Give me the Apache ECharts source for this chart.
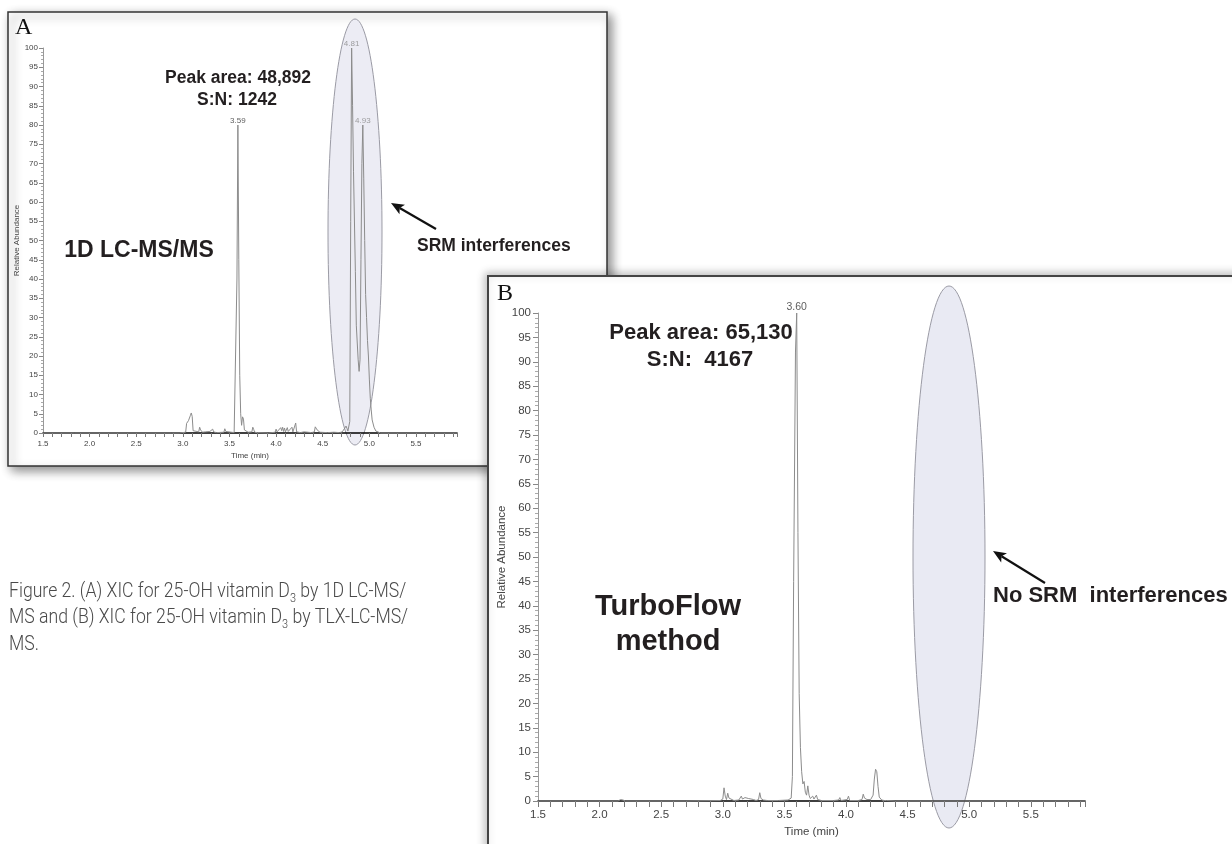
<!DOCTYPE html>
<html><head><meta charset="utf-8">
<script src="https://cdn.jsdelivr.net/npm/echarts@6/dist/echarts.min.js"></script>
<style>html,body{margin:0;padding:0;background:#fff}#c{width:1232px;height:844px}</style>
</head><body><div id="c"></div>
<script>
// ---- data ----
const timeRange = [1.5, 5.94];
const abundanceRange = [0, 100];
const traceA = [
[1.50,0],[1.84,0],[1.85,0.3],[1.86,0],[2.40,0],[2.41,0.2],[2.42,0],[2.88,0],[2.89,0.3],[2.90,0],[2.96,0],[2.97,0.3],[2.98,0],
[3.03,0.2],[3.04,2.5],[3.06,3.2],[3.07,2.8],[3.08,4.5],[3.09,5.2],[3.10,4.3],[3.11,0.6],[3.13,0.1],[3.17,0.3],[3.18,1.5],[3.19,0.8],
[3.20,1.0],[3.21,0.2],[3.24,0.3],[3.26,0.1],[3.29,0.4],[3.30,0.2],[3.32,1.0],[3.33,0.3],[3.36,0.1],[3.44,0.2],[3.45,1.1],[3.46,0.4],
[3.47,0.1],[3.55,0.1],[3.57,0.5],[3.58,40],[3.59,80],[3.60,45],[3.61,15],[3.62,5],[3.63,2],[3.64,4.2],[3.65,3.6],[3.66,0.8],[3.68,0.5],
[3.70,0.2],[3.74,0.3],[3.75,1.5],[3.76,0.9],[3.77,0.2],[3.80,0.1],[3.92,0],[3.99,0.2],[4.00,1.0],[4.01,0.3],[4.03,0.2],[4.05,1.4],
[4.06,0.6],[4.07,1.5],[4.08,0.4],[4.09,1.3],[4.10,0.3],[4.12,1.4],[4.13,0.4],[4.15,0.2],[4.17,1.5],[4.18,0.3],[4.20,0.4],[4.21,2.6],
[4.22,0.3],[4.26,0.1],[4.30,0.3],[4.32,0],[4.38,0.1],[4.41,0.3],[4.42,1.6],[4.43,1.1],[4.44,0.8],[4.46,0.5],[4.47,0.2],[4.55,0.1],
[4.62,0.2],[4.68,0.1],[4.71,0.3],[4.72,0.8],[4.73,0.2],[4.75,1.8],[4.76,1.2],[4.77,0.5],[4.78,1.0],[4.79,3],[4.80,55],[4.81,100],
[4.82,85],[4.83,68],[4.85,42],[4.86,28],[4.88,19],[4.89,16],[4.90,19],[4.91,45],[4.92,70],[4.93,80],[4.94,66],[4.95,50],[4.96,36],
[4.97,30],[4.98,24],[4.99,20],[5.00,14],[5.01,9],[5.02,6],[5.03,3.4],[5.05,1.5],[5.07,0.5],[5.09,0.2],[5.12,0],[5.40,0],[5.59,0],
[5.60,0.3],[5.61,0],[5.94,0]
];
const traceB = [
[1.50,0],[2.15,0],[2.17,0.3],[2.18,0.7],[2.19,0.2],[2.21,0],[2.70,0],[2.98,0.1],[3.00,0.4],[3.01,2.7],[3.02,1.0],[3.03,0.3],
[3.04,1.6],[3.05,0.6],[3.06,0.2],[3.09,0.1],[3.13,0.2],[3.15,1.0],[3.16,0.4],[3.17,0.6],[3.18,0.7],[3.19,0.3],[3.21,0.5],[3.22,0.2],
[3.25,0.3],[3.27,0.1],[3.29,0.3],[3.30,1.7],[3.31,0.5],[3.33,0.2],[3.34,0.4],[3.36,0.1],[3.45,0.1],[3.53,0.2],[3.555,0.6],[3.565,5],
[3.575,45],[3.59,92],[3.60,100],[3.61,55],[3.62,22],[3.63,11],[3.64,6],[3.65,3.5],[3.66,4.0],[3.67,1.8],[3.68,1.2],[3.69,3.1],
[3.70,1.2],[3.71,0.5],[3.72,0.3],[3.73,1.0],[3.74,0.4],[3.75,0.3],[3.76,1.2],[3.77,0.3],[3.80,0.1],[3.90,0.1],[3.94,0.2],[3.95,0.7],
[3.96,0.1],[4.01,0.3],[4.02,1.0],[4.03,0.1],[4.10,0.1],[4.13,0.3],[4.14,1.4],[4.15,0.6],[4.16,0.8],[4.17,0.3],[4.20,0.3],[4.22,1.2],
[4.23,4.5],[4.24,6.5],[4.25,6.0],[4.26,3.0],[4.27,0.8],[4.29,0.2],[4.31,0.1],[4.32,0.4],[4.33,0.1],[4.40,0],[5.94,0]
];
const peaksA = [[3.59,80],[4.81,100],[4.93,80]];
const peakLabelsA = ['3.59','4.81','4.93'];
const peakColorsA = ['#333','#888','#888'];
const peaksB = [[3.60,100]];
const peakLabelsB = ['3.60'];
const axisTitles = {x: 'Time (min)', y: 'Relative Abundance'};
const textsA = {panel: 'A', area: 'Peak area: 48,892', sn: 'S:N: 1242', method: '1D LC-MS/MS', note: 'SRM interferences'};
const textsB = {panel: 'B', area: 'Peak area: 65,130', sn: 'S:N:  4167', method1: 'TurboFlow', method2: 'method', note: 'No SRM  interferences'};
const captionLines = [
  'Figure 2. (A) XIC for 25-OH vitamin D{s|3} by 1D LC-MS/',
  'MS and (B) XIC for 25-OH vitamin D{s|3} by TLX-LC-MS/',
  'MS.'
];

// ---- chart ----
const chart = echarts.init(document.getElementById('c'), null, {renderer: 'canvas'});
const SANS = '"Liberation Sans", Arial, sans-serif';

function xAxisCfg(gi, fs, tickLen, margin, nameGap, z) {
  return {
    type: 'value', gridIndex: gi, min: timeRange[0], max: timeRange[1], interval: 0.1, z: z,
    axisLine: {show: true, onZero: false, lineStyle: {color: '#000', width: 1.5}},
    axisTick: {show: true, length: tickLen, lineStyle: {color: '#777', width: 1}},
    axisLabel: {show: true, fontSize: fs, color: '#444', fontFamily: SANS, margin: margin, showMaxLabel: true,
      formatter: v => (Math.abs(v * 2 - Math.round(v * 2)) < 1e-6 && v < 5.9) ? v.toFixed(1) : ''},
    splitLine: {show: false},
    name: axisTitles.x, nameLocation: 'middle', nameGap: nameGap,
    nameTextStyle: {fontSize: fs, color: '#444', fontFamily: SANS}
  };
}
function yAxisCfg(gi, fs, tickLen, margin, nameGap, z) {
  return {
    type: 'value', gridIndex: gi, min: abundanceRange[0], max: abundanceRange[1], interval: 5, z: z,
    axisLine: {show: true, lineStyle: {color: '#999', width: 1}},
    axisTick: {show: true, length: tickLen, lineStyle: {color: '#888', width: 1}},
    minorTick: {show: true, splitNumber: 5, length: Math.round(tickLen * 0.6), lineStyle: {color: '#aaa', width: 1}},
    axisLabel: {show: true, fontSize: fs, color: '#444', fontFamily: SANS, margin: margin},
    splitLine: {show: false},
    name: axisTitles.y, nameLocation: 'middle', nameGap: nameGap,
    nameTextStyle: {fontSize: fs, color: '#444', fontFamily: SANS}
  };
}

function arrow(tip, tail, z) {
  const dx = tip[0] - tail[0], dy = tip[1] - tail[1];
  const len = Math.sqrt(dx * dx + dy * dy);
  const ux = dx / len, uy = dy / len;
  const hl = 13, hw = 5.5;
  const bx = tip[0] - ux * hl, by = tip[1] - uy * hl;
  const nx = bx + ux * 3, ny = by + uy * 3;
  return [
    {type: 'line', z: z, shape: {x1: tail[0], y1: tail[1], x2: nx, y2: ny}, style: {stroke: '#111', lineWidth: 2.2}},
    {type: 'polygon', z: z, shape: {points: [tip, [bx - uy * hw, by + ux * hw], [nx, ny], [bx + uy * hw, by - ux * hw]]},
      style: {fill: '#111'}}
  ];
}

function txt(text, x, y, size, opts) {
  opts = opts || {};
  return {
    type: 'text', x: x, y: y, z: opts.z || 5,
    style: {
      text: text, fill: opts.color || '#231f20',
      font: (opts.weight || 'bold') + ' ' + size + 'px ' + (opts.family || SANS),
      align: opts.align || 'center', verticalAlign: opts.valign || 'middle',
      textAlign: opts.align || 'center', textVerticalAlign: opts.valign || 'middle'
    }
  };
}

const graphics = [];
// panel A frame
graphics.push({type: 'rect', z: 1, shape: {x: 8, y: 12, width: 599, height: 454},
  style: {fill: '#fff', stroke: '#333', lineWidth: 1.5, shadowBlur: 10, shadowOffsetX: 4, shadowOffsetY: 4, shadowColor: 'rgba(0,0,0,0.45)'}});
graphics.push({type: 'ellipse', z: 2, shape: {cx: 355, cy: 232, rx: 27, ry: 213},
  style: {fill: '#ececf4', stroke: '#9b9ba5', lineWidth: 1}});
graphics.push(txt(textsA.panel, 15, 28, 24, {weight: 'normal', family: '"Liberation Serif", serif', align: 'left', color: '#111'}));
graphics.push(txt(textsA.area, 238, 78, 17.5));
graphics.push(txt(textsA.sn, 237, 100, 17.5));
graphics.push(txt(textsA.method, 139, 251, 23));
graphics.push(txt(textsA.note, 417, 246, 17.5, {align: 'left'}));
arrow([391, 203], [436, 229], 5).forEach(g => graphics.push(g));

// panel B frame
graphics.push({type: 'rect', z: 10, shape: {x: 488, y: 276, width: 800, height: 640},
  style: {fill: '#fff', stroke: '#444', lineWidth: 2, shadowBlur: 8, shadowOffsetX: -2, shadowOffsetY: -2, shadowColor: 'rgba(0,0,0,0.25)'}});
graphics.push({type: 'ellipse', z: 11, shape: {cx: 949, cy: 557, rx: 36, ry: 271},
  style: {fill: '#e9eaf3', stroke: '#9b9ba5', lineWidth: 1}});
graphics.push(txt(textsB.panel, 497, 294, 24, {weight: 'normal', family: '"Liberation Serif", serif', align: 'left', color: '#111', z: 14}));
graphics.push(txt(textsB.area, 701, 333, 22, {z: 14}));
graphics.push(txt(textsB.sn, 700, 360, 22, {z: 14}));
graphics.push(txt(textsB.method1, 668, 607, 29, {z: 14}));
graphics.push(txt(textsB.method2, 668, 642, 29, {z: 14}));
graphics.push(txt(textsB.note, 993, 596, 22, {align: 'left', z: 14}));
arrow([993, 551], [1045, 583], 14).forEach(g => graphics.push(g));

// caption
const capY = [592, 618, 645];
captionLines.forEach((line, i) => {
  graphics.push({
    type: 'text', x: 9, y: capY[i], z: 5, scaleX: 0.84, scaleY: 1,
    style: {
      text: line, fill: '#4a4a4a', font: '300 21px Roboto, "Liberation Sans", sans-serif',
      align: 'left', verticalAlign: 'middle', textAlign: 'left', textVerticalAlign: 'middle',
      lineHeight: 27,
      rich: {
        s: {fontSize: 13, fontFamily: 'Roboto, "Liberation Sans", sans-serif', fontWeight: 300, fill: '#4a4a4a', verticalAlign: 'bottom', lineHeight: 6}
      }
    }
  });
});

const option = {
  animation: false,
  backgroundColor: '#fff',
  grid: [
    {left: 43, right: 1232 - 457, top: 48, bottom: 844 - 433, containLabel: false},
    {left: 538, right: 1232 - 1085, top: 313, bottom: 844 - 801, containLabel: false}
  ],
  xAxis: [xAxisCfg(0, 8, 4, 7, 19, 3), xAxisCfg(1, 11.5, 6, 8, 22, 12)],
  yAxis: [yAxisCfg(0, 8, 4, 5, 22, 3), yAxisCfg(1, 11.5, 5, 7, 23, 12)],
  graphic: {elements: graphics},
  series: [
    {type: 'line', xAxisIndex: 0, yAxisIndex: 0, data: traceA, showSymbol: false, symbol: 'none', z: 3,
      lineStyle: {color: '#8c8c8c', width: 1}, clip: false},
    {type: 'scatter', xAxisIndex: 0, yAxisIndex: 0, z: 4, symbolSize: 0,
      data: peaksA.map((p, i) => ({value: p, label: {color: peakColorsA[i]}})),
      label: {show: true, position: 'top', distance: 0, fontSize: 8, fontFamily: SANS,
        formatter: p => peakLabelsA[p.dataIndex]}},
    {type: 'line', xAxisIndex: 1, yAxisIndex: 1, data: traceB, showSymbol: false, symbol: 'none', z: 12,
      lineStyle: {color: '#8c8c8c', width: 1}, clip: false},
    {type: 'scatter', xAxisIndex: 1, yAxisIndex: 1, z: 13, symbolSize: 0,
      data: peaksB,
      label: {show: true, position: 'top', distance: 0, fontSize: 10.5, color: '#333', fontFamily: SANS,
        formatter: p => peakLabelsB[p.dataIndex]}}
  ]
};
chart.setOption(option);
</script></body></html>
